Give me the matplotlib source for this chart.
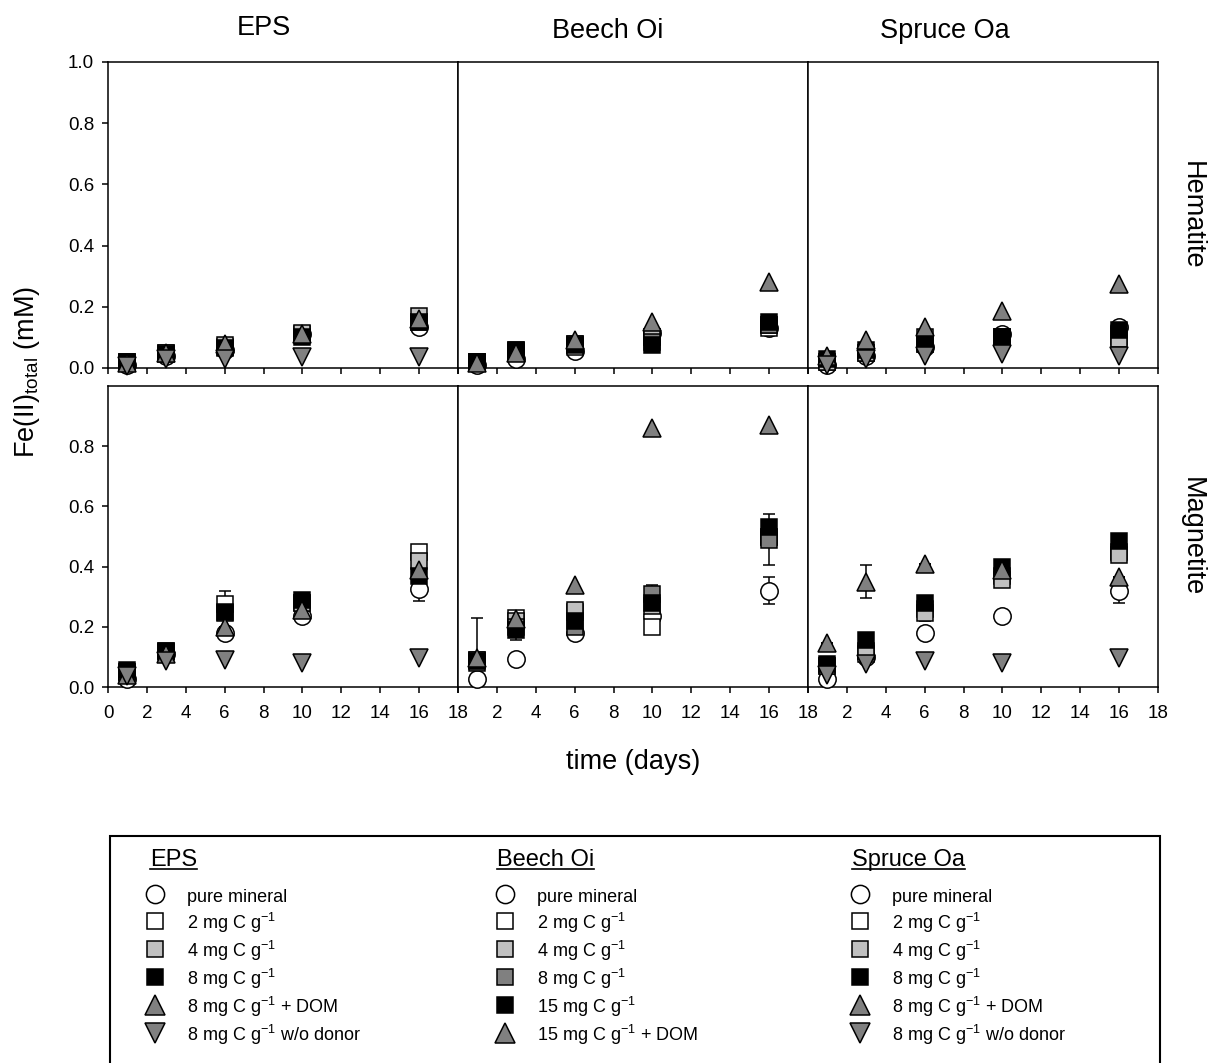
import matplotlib
matplotlib.use('Agg')
import matplotlib.pyplot as plt
from matplotlib.lines import Line2D
from matplotlib.patches import Rectangle

plt.rcParams['font.family'] = ['Liberation Sans', 'DejaVu Sans']
plt.rcParams['mathtext.default'] = 'regular'

days = [1, 3, 6, 10, 16]
substrates = ['EPS', 'Beech Oi', 'Spruce Oa']
minerals = ['Hematite', 'Magnetite']

eps_labels = ['pure mineral', '2 mg C g$^{-1}$', '4 mg C g$^{-1}$', '8 mg C g$^{-1}$',
              '8 mg C g$^{-1}$ + DOM', '8 mg C g$^{-1}$ w/o donor']
beech_labels = ['pure mineral', '2 mg C g$^{-1}$', '4 mg C g$^{-1}$', '8 mg C g$^{-1}$',
                '15 mg C g$^{-1}$', '15 mg C g$^{-1}$ + DOM']
spruce_labels = eps_labels

# Fe(II) total (mM), series order as in the labels above
eps_hem = [[0.01, 0.04, 0.06, 0.11, 0.135],
           [0.02, 0.05, 0.07, 0.11, 0.15],
           [0.02, 0.05, 0.075, 0.115, 0.17],
           [0.02, 0.045, 0.065, 0.10, 0.15],
           [0.015, 0.05, 0.08, 0.11, 0.16],
           [0.005, 0.03, 0.03, 0.035, 0.036]]
beech_hem = [[0.01, 0.03, 0.055, 0.115, 0.13],
             [0.02, 0.05, 0.07, 0.10, 0.13],
             [0.02, 0.055, 0.08, 0.10, 0.14],
             [0.02, 0.06, 0.08, 0.085, 0.14],
             [0.02, 0.06, 0.075, 0.075, 0.15],
             [0.015, 0.05, 0.09, 0.15, 0.28]]
spruce_hem = [[0.01, 0.04, 0.07, 0.11, 0.135],
              [0.02, 0.05, 0.08, 0.10, 0.10],
              [0.02, 0.05, 0.10, 0.10, 0.095],
              [0.03, 0.06, 0.08, 0.10, 0.125],
              [0.04, 0.09, 0.135, 0.185, 0.275],
              [0.01, 0.03, 0.04, 0.045, 0.04]]

eps_mag = [[0.025, 0.11, 0.18, 0.235, 0.325],
           [0.05, 0.12, 0.275, 0.28, 0.45],
           [0.05, 0.115, 0.245, 0.28, 0.42],
           [0.056, 0.12, 0.25, 0.29, 0.37],
           [0.04, 0.11, 0.20, 0.255, 0.39],
           [0.035, 0.085, 0.09, 0.08, 0.095]]
beech_mag = [[0.025, 0.093, 0.18, 0.235, 0.32],
             [0.09, 0.23, 0.25, 0.20, 0.50],
             [0.09, 0.22, 0.255, 0.27, 0.50],
             [0.08, 0.20, 0.20, 0.31, 0.49],
             [0.085, 0.19, 0.22, 0.28, 0.53],
             [0.095, 0.225, 0.34, 0.86, 0.87]]
spruce_mag = [[0.025, 0.10, 0.18, 0.235, 0.32],
              [0.07, 0.11, 0.26, 0.37, 0.45],
              [0.07, 0.12, 0.245, 0.355, 0.44],
              [0.075, 0.155, 0.28, 0.40, 0.485],
              [0.145, 0.35, 0.41, 0.39, 0.365],
              [0.04, 0.075, 0.085, 0.08, 0.095]]

# standard deviations (only where error bars are visible)
eps_mag_err = {0: [0, 0, 0, 0, 0.04], 1: [0, 0, 0.045, 0, 0], 4: [0, 0, 0, 0, 0.05]}
beech_mag_err = {0: [0, 0, 0, 0, 0.045], 3: [0, 0, 0, 0.03, 0.085], 4: [0.145, 0.035, 0, 0, 0]}
spruce_mag_err = {0: [0, 0, 0, 0, 0.04], 2: [0, 0, 0.025, 0, 0], 4: [0, 0.055, 0, 0, 0]}

styles = {
    'pure': dict(marker='o', mfc='white', ms=12.5),
    'c2': dict(marker='s', mfc='white', ms=11.5),
    'c4': dict(marker='s', mfc='#c0c0c0', ms=11.5),
    'c8': dict(marker='s', mfc='black', ms=11.5),
    'c8g': dict(marker='s', mfc='#808080', ms=11.5),
    'dom': dict(marker='^', mfc='#808080', ms=13.5),
    'wo': dict(marker='v', mfc='#808080', ms=13.5),
}
eps_styles = ['pure', 'c2', 'c4', 'c8', 'dom', 'wo']
beech_styles = ['pure', 'c2', 'c4', 'c8g', 'c8', 'dom']
spruce_styles = eps_styles

panel_labels = [eps_labels, beech_labels, spruce_labels]
panel_styles = [eps_styles, beech_styles, spruce_styles]
panel_data = [[eps_hem, beech_hem, spruce_hem], [eps_mag, beech_mag, spruce_mag]]
panel_err = [[{}, {}, {}], [eps_mag_err, beech_mag_err, spruce_mag_err]]

W, H = 1211, 1063
fig = plt.figure(figsize=(W / 100, H / 100), dpi=100)

lefts = [108, 458, 808]
rows = [(62, 368), (386, 687)]
handles = [[], [], []]

for r, (top, bot) in enumerate(rows):
    for c, x0 in enumerate(lefts):
        ax = fig.add_axes([x0 / W, 1 - bot / H, 350 / W, (bot - top) / H])
        data = panel_data[r][c]
        errs = panel_err[r][c]
        for i, key in enumerate(panel_styles[c]):
            st = styles[key]
            if i in errs:
                ax.errorbar(days, data[i], yerr=errs[i], fmt='none', ecolor='black',
                            elinewidth=1.1, capsize=4.5, capthick=1.1, zorder=2)
            ln, = ax.plot(days, data[i], linestyle='none', marker=st['marker'],
                          markersize=st['ms'], markerfacecolor=st['mfc'],
                          markeredgecolor='black', markeredgewidth=1.1,
                          clip_on=False, zorder=3 + i, label=panel_labels[c][i])
            if r == 0:
                handles[c].append(ln)
        ax.set_xlim(0, 18)
        ax.set_ylim(0, 1.0)
        ax.set_xticks(range(0, 19, 2))
        for s in ax.spines.values():
            s.set_linewidth(1.1)
        ax.tick_params(direction='out', length=4, width=1.1, labelsize=13.5)
        ax.tick_params(axis='x', pad=9)
        ax.tick_params(axis='y', pad=6)
        if c == 0:
            if r == 0:
                ax.set_yticks([0, 0.2, 0.4, 0.6, 0.8, 1.0])
            else:
                ax.set_yticks([0, 0.2, 0.4, 0.6, 0.8])
            ax.set_yticklabels([f'{v:.1f}' for v in ax.get_yticks()])
        else:
            ax.set_yticks([])
        if r == 0:
            ax.set_xticklabels([])
        else:
            if c == 0:
                ax.set_xticklabels([str(v) for v in range(0, 19, 2)])
            else:
                ax.set_xticklabels([''] + [str(v) for v in range(2, 19, 2)])

# column titles and row labels
title_pos = [(264, 28), (608, 31), (945, 31)]
for c, name in enumerate(substrates):
    fig.text(title_pos[c][0] / W, 1 - title_pos[c][1] / H, name, fontsize=19.5,
             ha='center', va='center')
for r, name in enumerate(minerals):
    top, bot = rows[r]
    fig.text(1192 / W, 1 - (top + bot) / 2 / H, name, fontsize=19.5, rotation=-90,
             ha='center', va='center')

fig.text(27 / W, 1 - 372 / H, 'Fe(II)$_{total}$ (mM)', fontsize=19.5, rotation=90,
         ha='center', va='center')
fig.text(633 / W, 1 - 762 / H, 'time (days)', fontsize=19.5, ha='center', va='center')

# legend box
fig.patches.append(Rectangle((110 / W, -0.02), 1050 / W, 1 - 836 / H + 0.02,
                             transform=fig.transFigure, fill=False, lw=1.5,
                             edgecolor='black'))

title_x = [150, 497, 852]
marker_x = [155, 505, 860]
titles = []
for c, name in enumerate(substrates):
    t = fig.text(title_x[c] / W, 1 - 860 / H, name, fontsize=17, ha='left', va='center')
    titles.append(t)
    fs_px = 13 * 100 / 72
    hl = 1.0
    fig.legend(handles=handles[c], loc='upper left',
               bbox_to_anchor=((marker_x[c] - hl * fs_px / 2) / W, 1 - 886 / H),
               frameon=False, fontsize=13, borderpad=0, borderaxespad=0,
               handlelength=hl, handleheight=1.4, handletextpad=1.28,
               labelspacing=0.22, numpoints=1, markerscale=1.05)

fig.canvas.draw()
for t in titles:
    bb = t.get_window_extent()
    y = (bb.y0 + 2) / H
    fig.add_artist(Line2D([bb.x0 / W, bb.x1 / W], [y, y], color='black', lw=1.2,
                          transform=fig.transFigure))

fig.savefig('out.png', dpi=100)
